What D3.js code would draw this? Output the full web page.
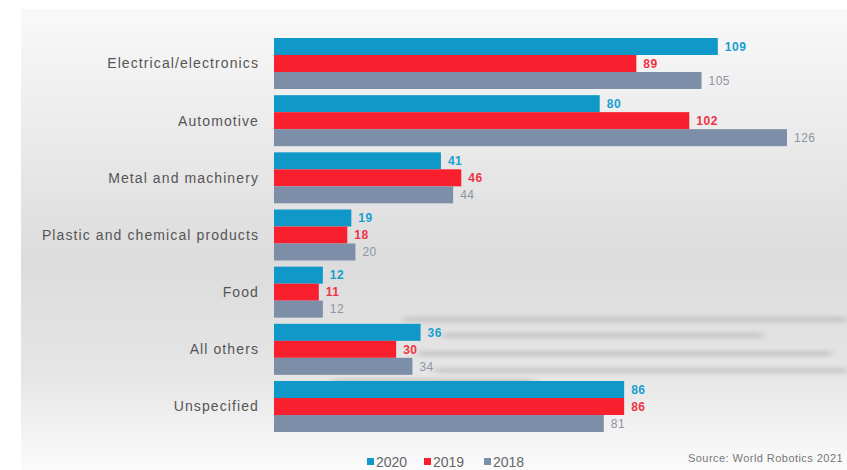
<!DOCTYPE html>
<html>
<head>
<meta charset="utf-8">
<script src="https://cdn.jsdelivr.net/npm/d3@7"></script>
<style>
  body { margin: 0; background: #fff; }
  #chart { width: 847px; height: 470px; overflow: hidden; }
</style>
</head>
<body>
<div id="chart"></div>
<script>
// data
const categories = ["Electrical/electronics", "Automotive", "Metal and machinery",
  "Plastic and chemical products", "Food", "All others", "Unspecified"];
const years = ["2020", "2019", "2018"];
const v2020 = [109, 80, 41, 19, 12, 36, 86];
const v2019 = [89, 102, 46, 18, 11, 30, 86];
const v2018 = [105, 126, 44, 20, 12, 34, 81];
const seriesValues = [v2020, v2019, v2018];

const barColors = ["#0f98c8", "#f8202f", "#7d8ea8"];
const labelColors = ["#16a0d0", "#ee3446", "#8c95a3"];

const width = 847, height = 470;

const svg = d3.select("#chart").append("svg")
  .attr("width", width)
  .attr("height", height);

/*
  BACKGROUND
*/
const defs = svg.append("defs");
const grad = defs.append("linearGradient")
  .attr("id", "bg").attr("x1", 0).attr("y1", 0).attr("x2", 0).attr("y2", 1);
grad.append("stop").attr("offset", "0%").attr("stop-color", "#f9f9f9");
grad.append("stop").attr("offset", "55%").attr("stop-color", "#dcdcdc");
grad.append("stop").attr("offset", "80%").attr("stop-color", "#e6e6e6");
grad.append("stop").attr("offset", "100%").attr("stop-color", "#fbfbfb");

defs.append("filter").attr("id", "blur")
  .attr("x", "-5%").attr("y", "-300%").attr("width", "110%").attr("height", "700%")
  .append("feGaussianBlur").attr("stdDeviation", "4 2");

svg.append("rect")
  .attr("x", 21).attr("y", 9)
  .attr("width", width - 21).attr("height", height - 9)
  .attr("fill", "url(#bg)");

// faint smeared streaks behind the "All others" row (from the source image)
const streaks = [[404, 319, 847], [443, 335, 763], [417, 353, 832], [435, 370, 847], [332, 381, 535]];
svg.append("g").selectAll("rect")
  .data(streaks)
  .enter()
  .append("rect")
    .attr("x", d => d[0])
    .attr("y", d => d[1] - 2)
    .attr("width", d => d[2] - d[0])
    .attr("height", 5)
    .attr("fill", "#a8a8a8")
    .attr("opacity", 0.5)
    .attr("filter", "url(#blur)");

/*
  SCALES
*/
const xScale = d3.scaleLinear()
  .domain([0, 126])
  .range([274, 787]);

const yScale = d3.scaleBand()
  .domain(categories)
  .range([38, 432])
  .paddingInner(0.108)
  .paddingOuter(0);

const ySub = d3.scaleBand()
  .domain(years)
  .range([0, yScale.bandwidth()]);

/*
  CATEGORY LABELS
*/
svg.append("g").selectAll("text")
  .data(categories)
  .enter()
  .append("text")
    .attr("x", 259)
    .attr("y", d => yScale(d) + yScale.bandwidth() / 2)
    .attr("dy", "0.35em")
    .attr("text-anchor", "end")
    .attr("font-family", "Liberation Sans, Arial, sans-serif")
    .attr("font-size", 14)
    .attr("letter-spacing", 1.1)
    .attr("fill", "#555")
    .text(d => d);

/*
  BARS
*/
const groups = svg.append("g").selectAll("g")
  .data(categories)
  .enter()
  .append("g")
    .attr("transform", d => `translate(0,${yScale(d)})`);

groups.selectAll("rect")
  .data((d, i) => years.map((y, j) => ({ year: y, j: j, value: seriesValues[j][i] })))
  .enter()
  .append("rect")
    .attr("x", xScale(0))
    .attr("y", d => ySub(d.year))
    .attr("width", d => xScale(d.value) - xScale(0))
    .attr("height", ySub.bandwidth())
    .attr("fill", d => barColors[d.j]);

groups.selectAll("text")
  .data((d, i) => years.map((y, j) => ({ year: y, j: j, value: seriesValues[j][i] })))
  .enter()
  .append("text")
    .attr("x", d => xScale(d.value) + 7)
    .attr("y", d => ySub(d.year) + ySub.bandwidth() / 2)
    .attr("dy", "0.35em")
    .attr("font-family", "Liberation Sans, Arial, sans-serif")
    .attr("font-size", 12)
    .attr("letter-spacing", 0.5)
    .attr("font-weight", d => d.j < 2 ? "bold" : "normal")
    .attr("fill", d => labelColors[d.j])
    .text(d => d.value);

/*
  LEGEND
*/
const legendX = [367, 424, 484];
const legend = svg.append("g").selectAll("g")
  .data(years)
  .enter()
  .append("g")
    .attr("transform", (d, i) => `translate(${legendX[i]},462)`);

legend.append("rect")
  .attr("x", 0).attr("y", -4)
  .attr("width", 7).attr("height", 7)
  .attr("fill", (d, i) => barColors[i]);

legend.append("text")
  .attr("x", 9)
  .attr("y", 0)
  .attr("dy", "0.35em")
  .attr("font-family", "Liberation Sans, Arial, sans-serif")
  .attr("font-size", 14)
  .attr("fill", "#666")
  .text(d => d);

/*
  SOURCE
*/
svg.append("text")
  .attr("x", 688)
  .attr("y", 458)
  .attr("dy", "0.35em")
  .attr("font-family", "Liberation Sans, Arial, sans-serif")
  .attr("font-size", 11)
  .attr("letter-spacing", 0.45)
  .attr("fill", "#777")
  .text("Source: World Robotics 2021");
</script>
</body>
</html>
